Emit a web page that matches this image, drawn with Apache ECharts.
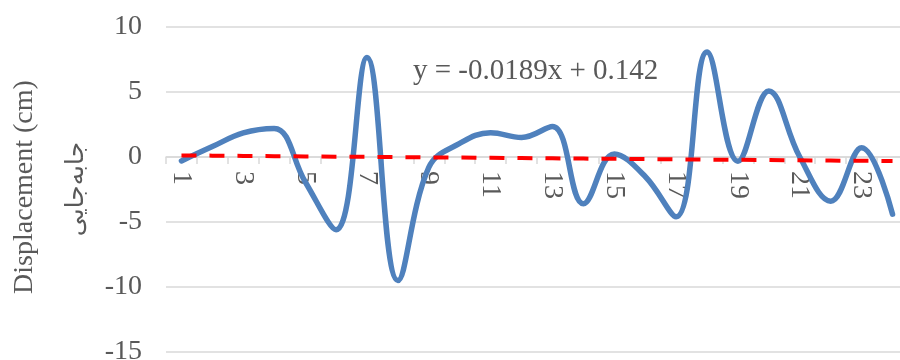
<!DOCTYPE html>
<html>
<head>
<meta charset="utf-8">
<script src="https://cdn.jsdelivr.net/npm/echarts@6/dist/echarts.min.js"></script>
<style>
html,body{margin:0;padding:0;background:#fff;}
#chart{width:900px;height:360px;}
</style>
</head>
<body>
<div id="chart"></div>
<script>
var categories = ['1','2','3','4','5','6','7','8','9','10','11','12','13','14','15','16','17','18','19','20','21','22','23','24'];
var displacement = [-0.3, 0.8, 1.85, 2.2, -1.9, -5.6, 7.65, -9.5, -0.8, 1.05, 1.87, 1.5, 2.35, -3.6, 0.23, -1.5, -4.6, 8.07, -0.33, 5.08, 0.0, -3.4, 0.72, -4.4];
var trendSlope = -0.0189;
var trendIntercept = 0.142;
var trendValues = categories.map(function (c) { return +(trendSlope * Number(c) + trendIntercept).toFixed(4); });
var yTicks = { min: -15, max: 10, interval: 5 };
var yTitle = 'Displacement (cm)';
var yTitleFa = 'جابه‌جایی';
var equationText = 'y = -0.0189x + 0.142';

var chart = echarts.init(document.getElementById('chart'), null, { renderer: 'canvas' });
var serif = '"Liberation Serif", "Times New Roman", serif';
// grid 0: data plot; grid 1: upper part ending exactly at the zero line, carrying the visible category axis
var plotTop = 27, plotBottomPx = 352;
var zeroPx = plotTop + (yTicks.max - 0) / (yTicks.max - yTicks.min) * (plotBottomPx - plotTop);
chart.setOption({
  animation: false,
  backgroundColor: '#ffffff',
  grid: [
    { left: 166, right: -8, top: plotTop, bottom: 360 - plotBottomPx, containLabel: false, outerBoundsMode: 'none' },
    { left: 166, right: -8, top: plotTop, height: zeroPx - plotTop, containLabel: false, outerBoundsMode: 'none' }
  ],
  xAxis: [
    { gridIndex: 0, type: 'category', data: categories, boundaryGap: true, show: false },
    {
      gridIndex: 1, type: 'category', data: categories, boundaryGap: true, position: 'bottom', z: 2,
      axisLine: { show: true, onZero: false, lineStyle: { color: '#d9d9d9', width: 1.5 } },
      axisTick: { show: true, length: 7, interval: 0, lineStyle: { color: '#d9d9d9', width: 1.5 } },
      axisLabel: { interval: 1, rotate: -90, margin: 14, color: '#595959', fontFamily: serif, fontSize: 28, hideOverlap: false },
      splitLine: { show: false }
    }
  ],
  yAxis: [
    {
      gridIndex: 0, type: 'value',
      min: yTicks.min, max: yTicks.max, interval: yTicks.interval,
      axisLine: { show: false },
      axisTick: { show: false },
      axisLabel: { margin: 24, color: '#595959', fontFamily: serif, fontSize: 28 },
      splitLine: { show: true, lineStyle: { color: '#d9d9d9', width: 1.5 } }
    },
    { gridIndex: 1, type: 'value', min: 0, max: 1, show: false, splitLine: { show: false } }
  ],
  graphic: [
    { type: 'text', x: 25, y: 187, rotation: Math.PI / 2, silent: true,
      style: { text: yTitle, x: 0, y: 0, textAlign: 'center', textVerticalAlign: 'middle', fill: '#595959', font: '28px ' + serif } },
    { type: 'text', x: 76, y: 189, rotation: Math.PI / 2, silent: true,
      style: { text: yTitleFa, x: 0, y: 0, textAlign: 'center', textVerticalAlign: 'middle', fill: '#595959', font: '25px "DejaVu Sans", "Noto Sans", sans-serif' } },
    { type: 'text', x: 413, y: 71, silent: true,
      style: { text: equationText, x: 0, y: 0, textAlign: 'left', textVerticalAlign: 'middle', fill: '#595959', font: '29px ' + serif } }
  ],
  series: [
    {
      name: 'Displacement', type: 'line', xAxisIndex: 0, yAxisIndex: 0, data: displacement, smooth: 0.4,
      symbol: 'none', z: 3,
      lineStyle: { color: '#4f81bd', width: 5.5, cap: 'round', join: 'round' }
    },
    {
      name: 'Trend', type: 'line', xAxisIndex: 0, yAxisIndex: 0, data: trendValues, smooth: false,
      symbol: 'none', z: 4,
      lineStyle: { color: '#ff0000', width: 4, type: [15, 13] }
    }
  ]
});
</script>
</body>
</html>
